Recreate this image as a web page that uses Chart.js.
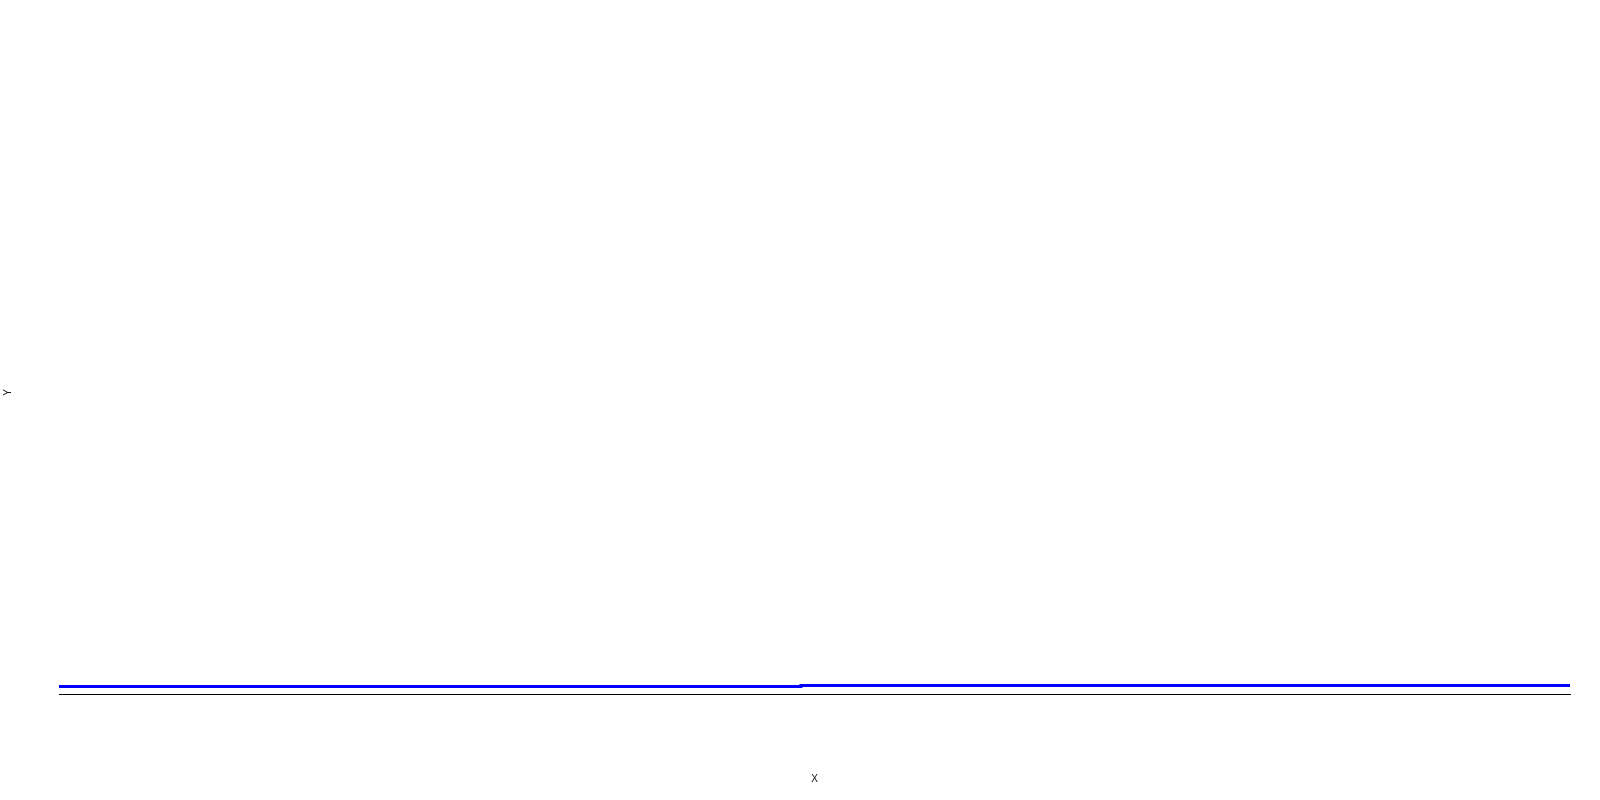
<!DOCTYPE html>
<html>
<head>
<meta charset="utf-8">
<script src="https://cdn.jsdelivr.net/npm/chart.js@4/dist/chart.umd.min.js"></script>
<style>
html,body{margin:0;padding:0;background:#fff;}
canvas{display:block;}
</style>
</head>
<body>
<canvas id="c" width="1600" height="800"></canvas>
<script>
// Data
const xValues = [0, 49.1, 100];
const yValues = [1.244, 1.41, 1.41];
const xTitle = 'X';
const yTitle = 'Y';

const points = xValues.map((x, i) => ({x: x, y: yValues[i]}));

new Chart(document.getElementById('c'), {
  type: 'line',
  data: {
    datasets: [{
      data: points,
      borderColor: '#0000ff',
      backgroundColor: '#0000ff',
      borderWidth: 3,
      pointRadius: 0,
      stepped: 'before',
      fill: false
    }]
  },
  options: {
    responsive: false,
    animation: false,
    devicePixelRatio: 1,
    layout: {padding: {top: 91, right: 30, left: 0, bottom: 0}},
    plugins: {legend: {display: false}, tooltip: {enabled: false}},
    scales: {
      x: {
        type: 'linear',
        min: 0,
        max: 100,
        grid: {display: false},
        border: {display: true, color: '#000', width: 1},
        ticks: {display: false},
        title: {display: true, text: xTitle, color: '#111',
          font: {family: '"Liberation Sans", Arial, sans-serif', size: 10},
          padding: {top: 4, bottom: 15}},
        afterFit: (s) => { s.height = 106; }
      },
      y: {
        min: 0,
        max: 100,
        grid: {display: false},
        border: {display: false},
        ticks: {display: false},
        title: {display: true, text: yTitle, color: '#111',
          font: {family: '"Liberation Sans", Arial, sans-serif', size: 10},
          padding: {top: 2, bottom: 4}},
        afterFit: (s) => { s.width = 59; }
      }
    }
  }
});
</script>
</body>
</html>
